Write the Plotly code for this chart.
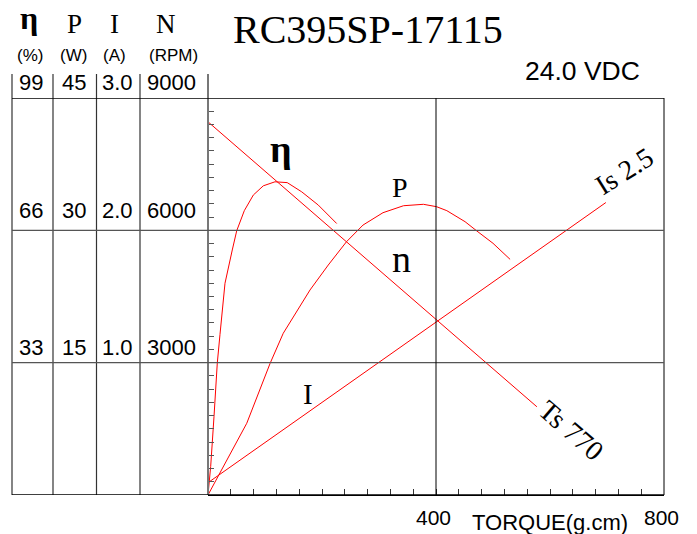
import plotly.graph_objects as go

# ---------------- data ----------------
# Speed line (RPM vs torque g.cm)
n_torque = [0, 577]
n_speed = [8460, 2000]

# Current line (A vs torque)
i_torque = [0, 698]
i_current = [0.093, 2.21]

# Output power (W vs torque)
p_torque = [0, 21, 68, 109, 132, 179, 211, 243, 272, 307, 343, 378, 401, 419, 451, 471, 500, 530]
p_power = [0, 2.46, 8.13, 14.93, 18.33, 23.24, 26.07, 28.71, 30.6, 32.0, 32.79, 32.95, 32.68, 32.23, 30.98, 29.96, 28.53, 26.71]

# Efficiency (% vs torque)
e_torque = [0, 4.7, 10.5, 16.3, 21, 29.8, 42.6, 50.4, 63.7, 79.5, 97, 117.5, 139, 164.4, 193.5, 225.8]
e_eff = [0, 7.1, 19.5, 32.9, 40.0, 52.8, 61.1, 65.9, 70.9, 74.8, 77.1, 78.1, 77.9, 75.6, 72.3, 67.7]

# Left table tick labels
eff_ticks = [33, 66, 99]
eff_labels = ["33", "66", "99"]
pow_ticks = [15, 30, 45]
pow_labels = ["15", "30", "45"]
cur_ticks = [1.0, 2.0, 3.0]
cur_labels = ["1.0", "2.0", "3.0"]
spd_ticks = [3000, 6000, 9000]
spd_labels = ["3000", "6000", "9000"]

x_tick_vals = [400, 800]
x_tick_labels = ["400", "800"]

title_text = "RC395SP-17115"
voltage_text = "24.0 VDC"
stall_torque_text = "Ts 770"
stall_current_text = "Is 2.5"

# ---------------- layout helpers (pixel -> paper) ----------------
W, H = 697, 534
L, R, T, B = 208, 664, 98, 495


def px(x):
    return (x - L) / (R - L)


def py(y):
    return (B - y) / (B - T)


SERIF = "Liberation Serif, Times New Roman, serif"
SANS = "Liberation Sans, Arial, sans-serif"
RED = "#ff0000"

fig = go.Figure()
fig.add_trace(go.Scatter(x=n_torque, y=n_speed, mode="lines", line=dict(color=RED, width=1), yaxis="y"))
fig.add_trace(go.Scatter(x=i_torque, y=i_current, mode="lines", line=dict(color=RED, width=1), yaxis="y2"))
fig.add_trace(go.Scatter(x=p_torque, y=p_power, mode="lines", line=dict(color=RED, width=1), yaxis="y3"))
fig.add_trace(go.Scatter(x=e_torque, y=e_eff, mode="lines", line=dict(color=RED, width=1), yaxis="y4"))

shapes = []
# table vertical lines
for xv in [12, 53, 96.5, 140]:
    shapes.append(dict(type="line", xref="paper", yref="paper", x0=px(xv), x1=px(xv),
                       y0=py(74), y1=0, line=dict(color="#333333", width=1.2)))
# left axis line (gray, thicker) extended upward
shapes.append(dict(type="line", xref="paper", yref="paper", x0=0, x1=0, y0=py(74), y1=0,
                   line=dict(color="#777777", width=2)))
# right border
shapes.append(dict(type="line", xref="paper", yref="paper", x0=1, x1=1, y0=0, y1=1,
                   line=dict(color="#000000", width=1)))
# horizontal lines across table and plot
for yv, col in [(0, "#000000"), (3000, "#555555"), (6000, "#555555"), (9000, "#000000")]:
    shapes.append(dict(type="line", xref="paper", yref="y", x0=px(12), x1=1, y0=yv, y1=yv,
                       line=dict(color=col, width=1.3)))
# vertical grid at 400
shapes.append(dict(type="line", xref="x", yref="paper", x0=400, x1=400, y0=0, y1=1,
                   line=dict(color="#000000", width=1)))

ann = []


def label(cx, cy, text, fam, size, weight="normal", angle=0):
    ann.append(dict(x=px(cx), y=py(cy), xref="paper", yref="paper", text=text, showarrow=False,
                    xanchor="center", yanchor="middle", textangle=angle,
                    font=dict(family=fam, size=size, color="black", weight=weight)))


# column tick labels
row_shift = [14.7, 19.8, 15.5]
cols = [
    (30.5, eff_ticks, eff_labels, "y4"),
    (73.5, pow_ticks, pow_labels, "y3"),
    (117, cur_ticks, cur_labels, "y2"),
    (171, spd_ticks, spd_labels, "y"),
]
for cx, vals, labs, yr in cols:
    for k, (v, lab) in enumerate(zip(vals, labs)):
        ann.append(dict(x=px(cx), y=v, xref="paper", yref=yr, text=lab, showarrow=False,
                        xanchor="center", yanchor="middle", yshift=row_shift[k],
                        font=dict(family=SANS, size=22, color="black")))

# header letters and units
label(29, 18, "η", SERIF, 32, "bold")
label(74, 24, "P", SERIF, 27)
label(114, 24, "I", SERIF, 27)
label(166, 24, "N", SERIF, 27)
label(30, 55.5, "(%)", SANS, 17)
label(73, 55.5, "(W)", SANS, 17)
label(114, 55.5, "(A)", SANS, 17)
label(173.5, 55.5, "(RPM)", SANS, 17)

# title and voltage
label(367.5, 29, title_text, SERIF, 40)
label(582.5, 71, voltage_text, SANS, 26.5)

# x tick labels and axis title
for v, lab in zip(x_tick_vals, x_tick_labels):
    ann.append(dict(x=v, y=py(517.5), xref="x", yref="paper", text=lab, showarrow=False,
                    xanchor="center", yanchor="middle", xshift=-3,
                    font=dict(family=SANS, size=21, color="black")))
label(549.5, 522, "TORQUE(g.cm)", SANS, 22)

# curve labels
label(281, 149, "η", SERIF, 38, "bold")
label(400, 187.5, "P", SERIF, 28)
label(401, 259, "n", SERIF, 38)
label(307.5, 393.5, "I", SERIF, 29)
label(571.5, 430, stall_torque_text, SERIF, 28, angle=41)
label(623.5, 171, stall_current_text, SERIF, 28, angle=-32)

fig.update_layout(
    width=W, height=H, autosize=False,
    margin=dict(l=L, r=W - R, t=T, b=H - B, pad=0),
    paper_bgcolor="white", plot_bgcolor="white",
    showlegend=False,
    shapes=shapes, annotations=ann,
    xaxis=dict(range=[0, 800], showgrid=False, zeroline=False, showline=True, linecolor="black",
               linewidth=1, ticks="inside", tickvals=[0, 400, 800], ticklen=6, tickcolor="#333333",
               showticklabels=False,
               minor=dict(dtick=40, ticks="inside", ticklen=6, tickcolor="#333333", showgrid=False)),
    yaxis=dict(range=[0, 9000], showgrid=False, zeroline=False, showline=False,
               ticks="inside", tickvals=[0, 3000, 6000, 9000], ticklen=6, tickcolor="#555555",
               showticklabels=False,
               minor=dict(dtick=300, ticks="inside", ticklen=6, tickcolor="#555555", showgrid=False)),
    yaxis2=dict(range=[0, 3], overlaying="y", visible=False),
    yaxis3=dict(range=[0, 45], overlaying="y", visible=False),
    yaxis4=dict(range=[0, 99], overlaying="y", visible=False),
)

fig.write_html("out.html", config={"displayModeBar": False},
               post_script="document.body.style.margin='0';document.body.style.overflow='hidden';")
